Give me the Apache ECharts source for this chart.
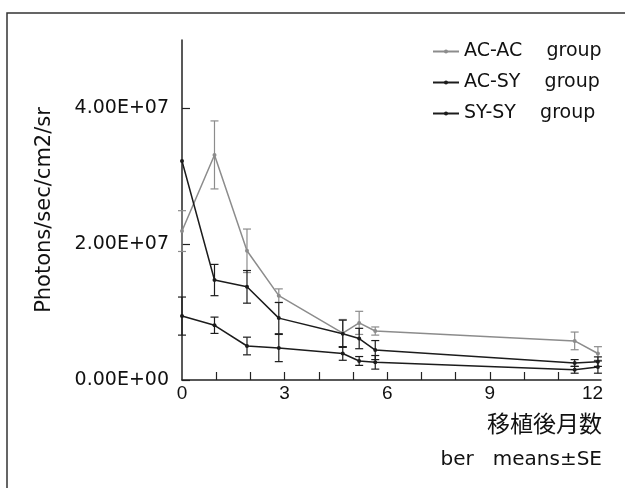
<!DOCTYPE html>
<html>
<head>
<meta charset="utf-8">
<script src="https://cdn.jsdelivr.net/npm/echarts@6/dist/echarts.min.js"></script>
<style>
  html, body { margin: 0; padding: 0; background: #fff; }
  #chart { width: 625px; height: 488px; }
</style>
</head>
<body>
<div id="chart"></div>
<script>
// months after transplant (x positions of the measurements)
const months = [0, 0.95, 1.9, 2.83, 4.7, 5.18, 5.65, 11.48, 12.16]

// group means and SE (photons/sec/cm2/sr)
const acacMean = [21.9e6, 33.1e6, 19.0e6, 12.4e6, 6.9e6, 8.4e6, 7.2e6, 5.75e6, 3.9e6]
const acacSE   = [3.0e6, 5.0e6, 3.2e6, 1.0e6, 2.0e6, 1.7e6, 0.6e6, 1.3e6, 1.0e6]
const acsyMean = [32.2e6, 14.7e6, 13.7e6, 9.1e6, 6.8e6, 6.1e6, 4.4e6, 2.5e6, 2.7e6]
const acsySE   = [0, 2.3e6, 2.4e6, 2.3e6, 2.0e6, 1.5e6, 1.4e6, 0.5e6, 0.7e6]
const sysyMean = [9.4e6, 8.05e6, 5.0e6, 4.7e6, 3.9e6, 2.8e6, 2.6e6, 1.5e6, 1.9e6]
const sysySE   = [2.8e6, 1.2e6, 1.3e6, 2.0e6, 1.0e6, 0.65e6, 1.0e6, 0.5e6, 0.9e6]

const groupNames = ['AC-AC    group', 'AC-SY    group', 'SY-SY    group']
const yTicks = [0, 2e7, 4e7]
const yTickLabels = ['0.00E+00', '2.00E+07', '4.00E+07']
const xLabelValues = [0, 3, 6, 9, 12]
const xTickValues = [1, 2, 3, 4, 5, 6, 7, 8, 9, 10, 11]

const GREY = '#8c8c8c'
const BLACK = '#1c1c1c'
const FONT = '"DejaVu Sans", "Liberation Sans", sans-serif'

function pairs(ys) {
  return months.map((m, i) => [m, ys[i]])
}

function errData(ys, se) {
  return months.map((m, i) => [m, ys[i], se[i]])
}

function lineSeries(name, ys, color) {
  return {
    name,
    type: 'line',
    data: pairs(ys),
    symbol: 'circle',
    symbolSize: 4,
    lineStyle: { color, width: 1.5 },
    itemStyle: { color },
    z: 3,
  }
}

function errSeries(ys, se, color) {
  return {
    type: 'custom',
    data: errData(ys, se),
    silent: true,
    z: 2,
    renderItem(params, api) {
      const x = api.value(0)
      const y = api.value(1)
      const e = api.value(2)
      if (!e) return null
      const hi = api.coord([x, y + e])
      const lo = api.coord([x, y - e])
      const w = 4
      const style = { stroke: color, lineWidth: 1.2 }
      return {
        type: 'group',
        children: [
          { type: 'line', shape: { x1: hi[0], y1: hi[1], x2: lo[0], y2: lo[1] }, style },
          { type: 'line', shape: { x1: hi[0] - w, y1: hi[1], x2: hi[0] + w, y2: hi[1] }, style },
          { type: 'line', shape: { x1: lo[0] - w, y1: lo[1], x2: lo[0] + w, y2: lo[1] }, style },
        ],
      }
    },
  }
}

const chart = echarts.init(document.getElementById('chart'))

chart.setOption({
  backgroundColor: '#fff',
  animation: false,
  textStyle: { fontFamily: FONT },
  grid: { left: 182, right: 24, top: 40, bottom: 108 },
  legend: {
    data: groupNames,
    orient: 'vertical',
    left: 427,
    top: 37,
    itemWidth: 26,
    itemHeight: 5,
    itemGap: 12,
    textStyle: { color: '#111', fontSize: 19, fontFamily: FONT },
  },
  xAxis: {
    type: 'value',
    min: 0,
    max: 12.25,
    axisLine: { lineStyle: { color: '#222', width: 1.5 } },
    axisTick: { inside: true, length: 8, customValues: xTickValues, lineStyle: { color: '#222', width: 1.2 } },
    axisLabel: { customValues: xLabelValues, color: '#111', fontSize: 19, margin: 4, fontFamily: '"Liberation Sans", sans-serif' },
    splitLine: { show: false },
  },
  yAxis: {
    type: 'value',
    min: 0,
    max: 5e7,
    axisLine: { show: true, lineStyle: { color: '#222', width: 1.5 } },
    axisTick: { inside: true, length: 8, customValues: yTicks, lineStyle: { color: '#222', width: 1.2 } },
    axisLabel: {
      customValues: yTicks,
      color: '#111',
      fontSize: 19,
      margin: 13,
      fontFamily: FONT,
      formatter: v => yTickLabels[yTicks.indexOf(v)] || '',
    },
    splitLine: { show: false },
  },
  graphic: [
    {
      type: 'rect',
      shape: { x: 7, y: 13, width: 640, height: 500 },
      style: { fill: 'none', stroke: '#333', lineWidth: 1.5 },
      silent: true,
    },
    {
      type: 'text',
      x: 45,
      y: 210,
      rotation: Math.PI / 2,
      style: {
        text: 'Photons/sec/cm2/sr',
        fill: '#111',
        font: '21px ' + FONT,
        align: 'center',
        verticalAlign: 'middle',
      },
    },
    {
      type: 'text',
      right: 23,
      top: 412,
      style: { text: '移植後月数', fill: '#111', font: '23px "Noto Sans CJK JP"' },
    },
    {
      type: 'text',
      right: 23,
      top: 450,
      style: { text: 'ber   means±SE', fill: '#111', font: '20px ' + FONT },
    },
  ],
  series: [
    lineSeries(groupNames[0], acacMean, GREY),
    lineSeries(groupNames[1], acsyMean, BLACK),
    lineSeries(groupNames[2], sysyMean, BLACK),
    errSeries(acacMean, acacSE, GREY),
    errSeries(acsyMean, acsySE, BLACK),
    errSeries(sysyMean, sysySE, BLACK),
  ],
})
</script>
</body>
</html>
